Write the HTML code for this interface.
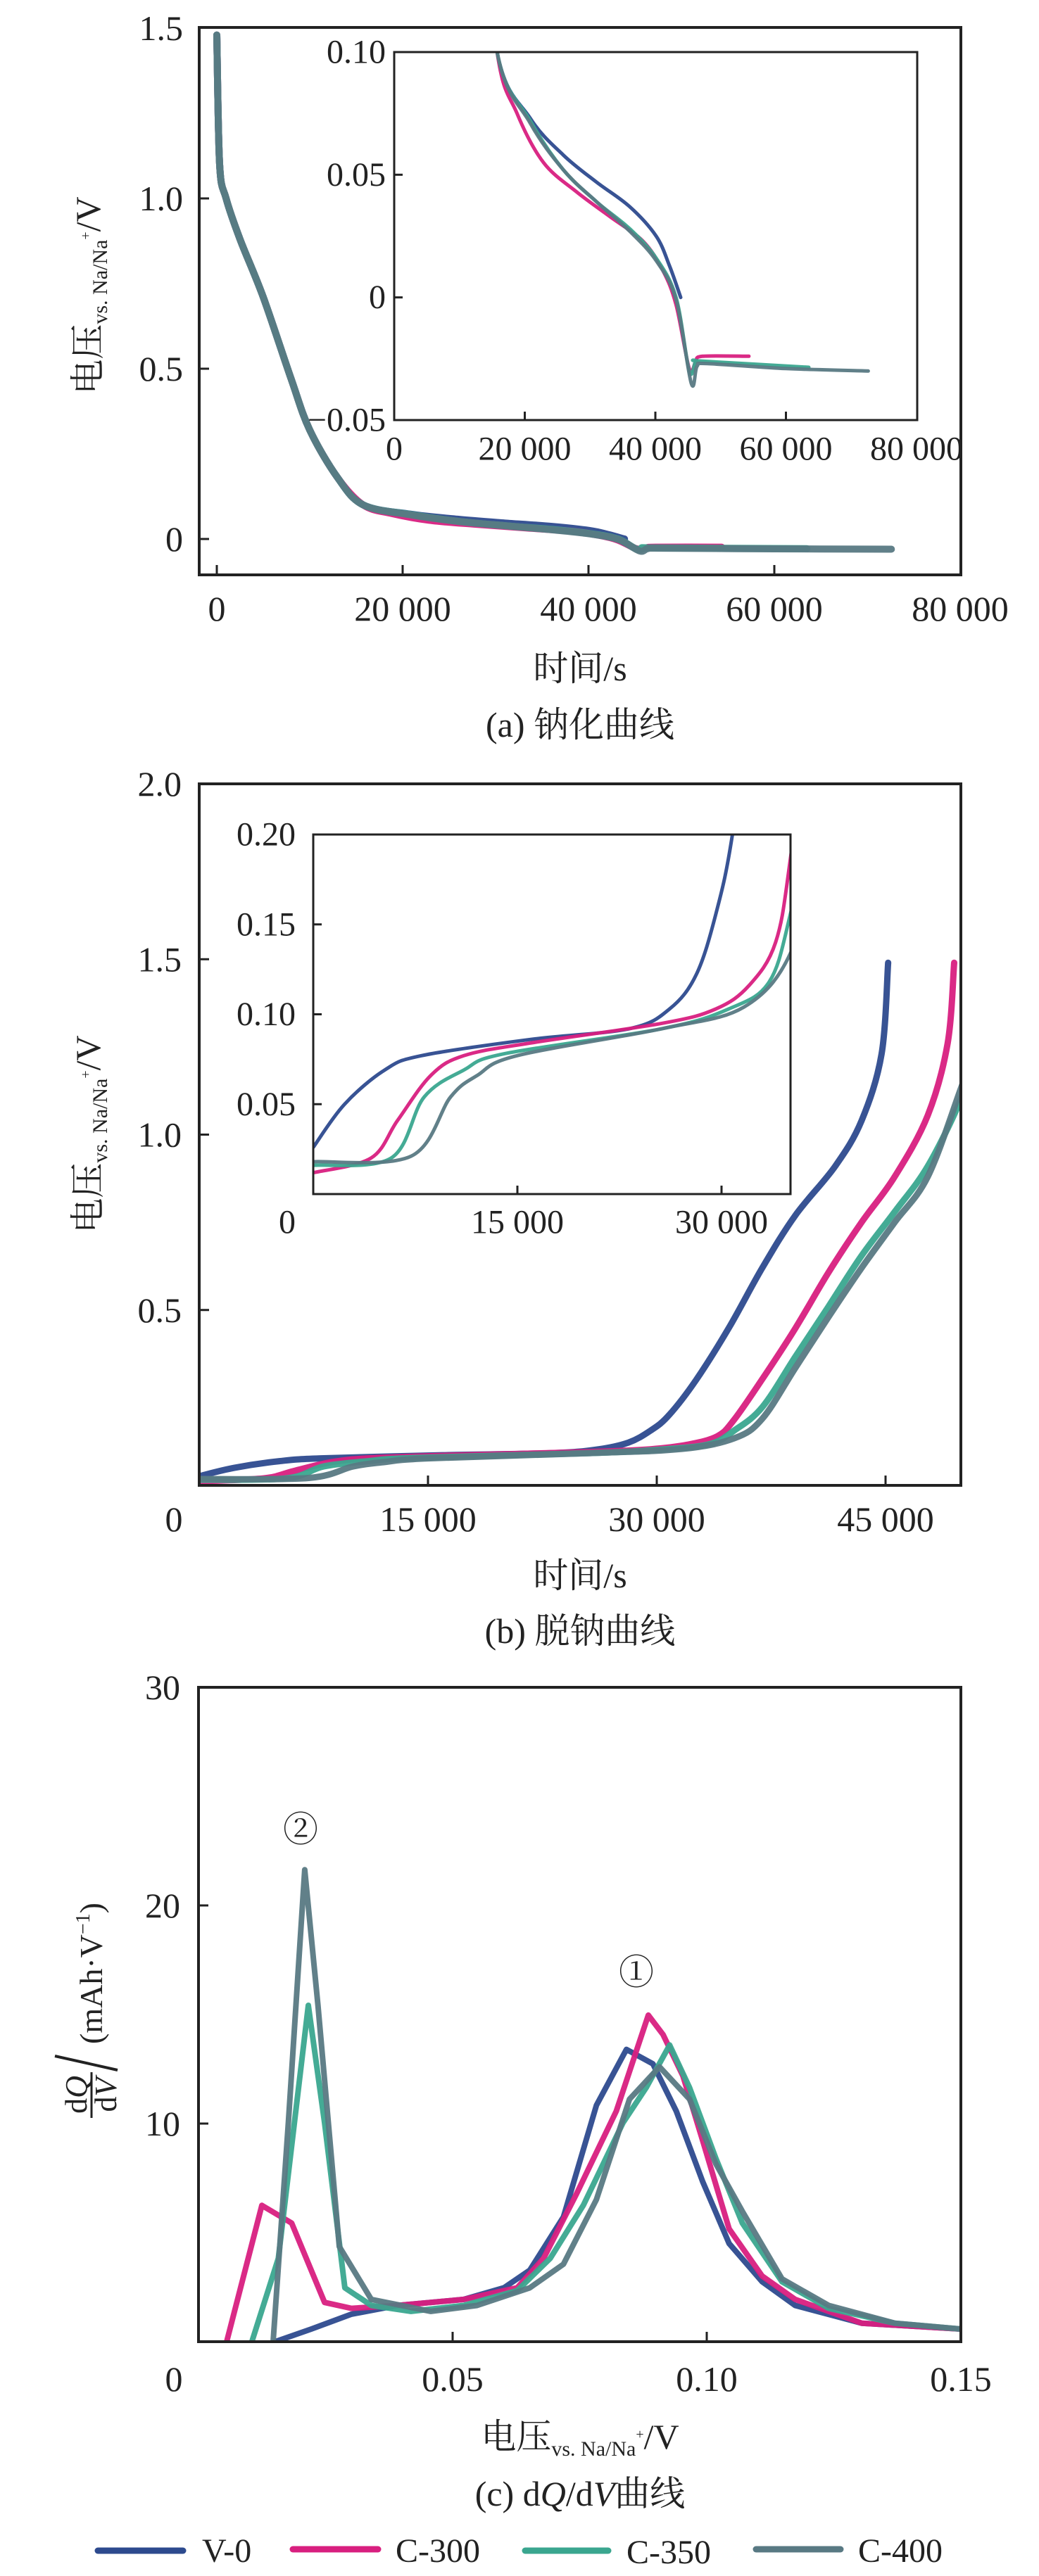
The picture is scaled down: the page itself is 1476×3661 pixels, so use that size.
<!DOCTYPE html>
<html><head><meta charset="utf-8">
<style>
html,body{margin:0;padding:0;background:#fff;}
svg{display:block;}
text{font-family:"Liberation Serif","Noto Serif CJK SC",serif;fill:#222;}
</style></head>
<body>
<svg id="fig" width="1476" height="3661" viewBox="0 0 1476 3661" xmlns="http://www.w3.org/2000/svg">
<defs>
<clipPath id="clipA"><rect x="283" y="39" width="1082" height="778"/></clipPath>
<clipPath id="clipAi"><rect x="560" y="74" width="743" height="523"/></clipPath>
<clipPath id="clipB"><rect x="283" y="1114" width="1082" height="997"/></clipPath>
<clipPath id="clipBi"><rect x="445" y="1186" width="678" height="511"/></clipPath>
<clipPath id="clipC"><rect x="282" y="2398" width="1083" height="930"/></clipPath>
</defs>
<g id="layer"></g>
</svg>
<script>
// ---------- Panel (a) data: sodiation curves ----------
const aV0_t = [0,300,1000,2500,5000,8000,10000,13000,15760,20840,25910,30990,36060,40120,42150,43880];
const aV0_v = [1.48,1.1,1.0,0.88,0.71,0.47,0.32,0.18,0.10,0.073,0.058,0.047,0.037,0.025,0.013,0.0];
const aC300_t = [0,300,1000,2500,5000,8000,10000,13000,15760,18810,22860,27940,33010,38080,41140,43170,45200,46200,47220,54330];
const aC300_v = [1.48,1.1,1.0,0.88,0.71,0.47,0.32,0.18,0.10,0.075,0.055,0.043,0.033,0.023,0.011,-0.003,-0.029,-0.026,-0.024,-0.024];
const aC350_t = [0,300,1000,2500,5000,8000,10000,13000,15760,20840,25910,30990,36060,40120,43170,45200,46200,47220,63500];
const aC350_v = [1.48,1.1,1.0,0.88,0.71,0.47,0.32,0.18,0.10,0.072,0.052,0.039,0.028,0.016,0.0,-0.030,-0.026,-0.026,-0.0285];
const aC400_t = [0,300,1000,2500,5000,8000,10000,13000,15760,20840,25910,30990,36060,40120,43170,45500,46400,48000,60000,72600];
const aC400_v = [1.48,1.1,1.0,0.88,0.71,0.47,0.32,0.18,0.10,0.071,0.052,0.039,0.027,0.015,-0.001,-0.035,-0.028,-0.027,-0.029,-0.030];
const aXTicks = [0,20000,40000,60000,80000];
const aXLabels = ["0","20 000","40 000","60 000","80 000"];
const aYTicks = [0,0.5,1.0,1.5];
const aYLabels = ["0","0.5","1.0","1.5"];
const aiYTicks = [-0.05,0,0.05,0.10];
const aiYLabels = ["\u22120.05","0","0.05","0.10"];

// ---------- Panel (b) data: desodiation curves ----------
const bV0_t = [0,2300,5250,7950,15930,23250,26190,28140,29590,30800,32570,34740,36920,39090,41700,43430,44740,45170];
const bV0_v = [0.026,0.050,0.069,0.077,0.086,0.092,0.103,0.122,0.156,0.200,0.30,0.45,0.62,0.77,0.91,1.04,1.23,1.49];
const bC300_t = [100,4240,6200,8640,11070,15930,25640,29590,32020,33970,35070,36920,39090,41260,43430,45600,47770,49070,49500];
const bC300_v = [0.012,0.020,0.041,0.066,0.077,0.084,0.095,0.103,0.116,0.140,0.187,0.303,0.448,0.607,0.75,0.88,1.055,1.26,1.49];
const bC350_t = [100,5720,8150,11070,14000,25640,30540,33500,35070,36920,39090,41260,43430,45600,47770,49930,50500];
const bC350_v = [0.016,0.020,0.054,0.069,0.078,0.092,0.103,0.118,0.156,0.223,0.367,0.51,0.655,0.78,0.91,1.10,1.2];
const bC400_t = [100,7180,10090,12050,14980,25640,31640,35070,36920,39090,41260,43430,45600,47770,49930,50500];
const bC400_v = [0.018,0.021,0.054,0.066,0.077,0.092,0.104,0.134,0.19,0.335,0.48,0.62,0.75,0.88,1.13,1.2];
const bXTicks = [0,15000,30000,45000];
const bXLabels = ["0","15 000","30 000","45 000"];
const bYTicks = [0.5,1.0,1.5,2.0];
const bYLabels = ["0.5","1.0","1.5","2.0"];
const biXTicks = [0,15000,30000];
const biXLabels = ["0","15 000","30 000"];
const biYTicks = [0.05,0.10,0.15,0.20];
const biYLabels = ["0.05","0.10","0.15","0.20"];

// ---------- Panel (c) data: dQ/dV ----------
const cV0_x = [0.01507,0.0222,0.0301,0.0392,0.0522,0.0601,0.0652,0.0718,0.0783,0.0842,0.0894,0.094,0.0992,0.1044,0.1109,0.1174,0.1305,0.150];
const cV0_y = [0,0.58,1.26,1.66,1.94,2.47,3.28,5.72,10.84,13.4,12.74,10.57,7.34,4.5,2.75,1.66,0.85,0.58];
const cC300_x = [0.00554,0.01247,0.01833,0.0248,0.0301,0.0392,0.0522,0.0627,0.0679,0.0744,0.0822,0.0885,0.0914,0.0953,0.0992,0.1044,0.1109,0.1174,0.1305,0.150];
const cC300_y = [0,6.25,5.44,1.8,1.53,1.66,1.94,2.47,3.82,6.79,10.57,14.97,14.08,12.19,9.22,5.17,3.01,1.94,0.85,0.58];
const cC350_x = [0.0105,0.0157,0.0216,0.0248,0.0288,0.034,0.0418,0.0522,0.0627,0.0692,0.0757,0.0835,0.0881,0.0927,0.0966,0.1018,0.107,0.1148,0.124,0.137,0.150];
const cC350_y = [0,3.82,15.42,10.03,2.47,1.66,1.39,1.66,2.34,3.82,6.25,10.03,11.65,13.6,11.65,8.4,5.44,2.75,1.53,0.85,0.58];
const cC400_x = [0.01468,0.01767,0.0209,0.0235,0.0277,0.034,0.0457,0.0548,0.0652,0.0718,0.0783,0.0848,0.0907,0.0966,0.1018,0.107,0.1148,0.124,0.137,0.150];
const cC400_y = [0,10.03,21.64,15.42,4.36,1.94,1.39,1.66,2.47,3.55,6.52,11.12,12.6,11.12,8.15,5.98,2.88,1.66,0.85,0.58];
const cXTicks = [0,0.05,0.10,0.15];
const cXLabels = ["0","0.05","0.10","0.15"];
const cYTicks = [10,20,30];
const cYLabels = ["10","20","30"];

const seriesNames = ["V-0","C-300","C-350","C-400"];
const seriesColors = ["#2d4a8e","#d81f7f","#3aa68f","#587983"];

const NS = "http://www.w3.org/2000/svg";
const root = document.getElementById("layer");
function mk(tag, attrs, parent){
  const e = document.createElementNS(NS, tag);
  for (const k in attrs) e.setAttribute(k, attrs[k]);
  (parent||root).appendChild(e);
  return e;
}
function lin(d0,d1,r0,r1){ return v => r0 + (v-d0)/(d1-d0)*(r1-r0); }
function smoothPath(pts){
  let d = "M"+pts[0][0].toFixed(1)+","+pts[0][1].toFixed(1);
  for (let i=0;i<pts.length-1;i++){
    const p0=pts[Math.max(0,i-1)], p1=pts[i], p2=pts[i+1], p3=pts[Math.min(pts.length-1,i+2)];
    const c1=[p1[0]+(p2[0]-p0[0])/6, p1[1]+(p2[1]-p0[1])/6];
    const c2=[p2[0]-(p3[0]-p1[0])/6, p2[1]-(p3[1]-p1[1])/6];
    d += " C"+c1[0].toFixed(1)+","+c1[1].toFixed(1)+" "+c2[0].toFixed(1)+","+c2[1].toFixed(1)+" "+p2[0].toFixed(1)+","+p2[1].toFixed(1);
  }
  return d;
}
function linePath(pts){ return pts.map((p,i)=>(i?"L":"M")+p[0].toFixed(1)+","+p[1].toFixed(1)).join(" "); }
function txt(x,y,s,size,anchor,parent){
  const t = mk("text",{x:x,y:y,"font-size":size,"text-anchor":anchor||"middle","dominant-baseline":"central"},parent);
  t.textContent = s;
  return t;
}
function drawBox(g, L,T,R,B, sw){
  const r = mk("rect",{x:L,y:T,width:R-L,height:B-T,fill:"none",stroke:"#222","stroke-width":sw},g);
  
  
}
function drawSeries(g, xs, ys, sx, sy, color, width, clip, smooth, name){
  const pts = xs.map((v,i)=>[sx(v), sy(ys[i])]);
  const p = mk("path",{d: smooth?smoothPath(pts):linePath(pts), fill:"none", stroke:color, "stroke-width":width, "stroke-linejoin":"round","stroke-linecap":"round","clip-path":"url(#"+clip+")", opacity:0.95},g);
  
  
}

// ================= Panel A =================
(function(){
  const g = mk("g",{});
  
  
  const L=283,T=39,R=1365,B=817;
  const sx = lin(0,80000,308,1364), sy = lin(0,1.5,766,40);
  const data = [[aV0_t,aV0_v],[aC300_t,aC300_v],[aC350_t,aC350_v],[aC400_t,aC400_v]];
  data.forEach((d,i)=>drawSeries(g,d[0],d[1],sx,sy,seriesColors[i],10,"clipA",true,"panel-a-line-"+seriesNames[i].toLowerCase()));
  drawBox(g,L,T,R,B,4);
  aXTicks.forEach((v,i)=>{
    if (v<80000) mk("line",{x1:sx(v),x2:sx(v),y1:B,y2:B-14,stroke:"#222","stroke-width":3},g);
    const t=txt(sx(v),865,aXLabels[i],50,"middle",g);
    
    
  });
  aYTicks.forEach((v,i)=>{
    if (v<1.5) mk("line",{x1:L,x2:L+14,y1:sy(v),y2:sy(v),stroke:"#222","stroke-width":3},g);
    const t=txt(260,sy(v),aYLabels[i],50,"end",g);
    
    
  });
  const iL=560,iT=74,iR=1303,iB=597;
  const ix = lin(0,80000,560,1302), iy = lin(0.10,-0.05,74,597);
  mk("rect",{x:iL,y:iT,width:iR-iL,height:iB-iT,fill:"#fff"},g);
  data.forEach((d,i)=>drawSeries(g,d[0],d[1],ix,iy,seriesColors[i],5,"clipAi",true,"panel-a-inset-line-"+seriesNames[i].toLowerCase()));
  drawBox(g,iL,iT,iR,iB,3);
  aXTicks.forEach((v,i)=>{
    if (v>0 && v<80000) mk("line",{x1:ix(v),x2:ix(v),y1:iB,y2:iB-12,stroke:"#222","stroke-width":3},g);
    const t=txt(ix(v),638,aXLabels[i],48,"middle",g);
    
    
  });
  aiYTicks.forEach((v,i)=>{
    if (v>-0.05 && v<0.10) mk("line",{x1:iL,x2:iL+12,y1:iy(v),y2:iy(v),stroke:"#222","stroke-width":3},g);
    const t=txt(548,iy(v),aiYLabels[i],48,"end",g);
    
    
  });
})();

// ================= Panel B =================
(function(){
  const g = mk("g",{});
  
  
  const L=283,T=1114,R=1365,B=2111;
  const sx = lin(0,15000,283,608), sy = lin(0,2.0,2111,1114);
  const data = [[bV0_t,bV0_v],[bC300_t,bC300_v],[bC350_t,bC350_v],[bC400_t,bC400_v]];
  data.forEach((d,i)=>drawSeries(g,d[0],d[1],sx,sy,seriesColors[i],9,"clipB",true,"panel-b-line-"+seriesNames[i].toLowerCase()));
  drawBox(g,L,T,R,B,4);
  bXTicks.forEach((v,i)=>{
    if (v>0) mk("line",{x1:sx(v),x2:sx(v),y1:B,y2:B-14,stroke:"#222","stroke-width":3},g);
    const t=txt(v===0?247:sx(v),2159,bXLabels[i],50,"middle",g);
    
    
  });
  bYTicks.forEach((v,i)=>{
    if (v<2.0) mk("line",{x1:L,x2:L+14,y1:sy(v),y2:sy(v),stroke:"#222","stroke-width":3},g);
    const t=txt(258,sy(v),bYLabels[i],50,"end",g);
    
    
  });
  const iL=445,iT=1186,iR=1123,iB=1697;
  const ix = lin(0,15000,445,735), iy = lin(0,0.20,1697,1186);
  mk("rect",{x:iL,y:iT,width:iR-iL,height:iB-iT,fill:"#fff"},g);
  data.forEach((d,i)=>drawSeries(g,d[0],d[1],ix,iy,seriesColors[i],5,"clipBi",true,"panel-b-inset-line-"+seriesNames[i].toLowerCase()));
  drawBox(g,iL,iT,iR,iB,3);
  biXTicks.forEach((v,i)=>{
    if (v>0) mk("line",{x1:ix(v),x2:ix(v),y1:iB,y2:iB-12,stroke:"#222","stroke-width":3},g);
    const t=txt(v===0?408:ix(v),1737,biXLabels[i],48,"middle",g);
    
    
  });
  biYTicks.forEach((v,i)=>{
    if (v<0.20) mk("line",{x1:iL,x2:iL+12,y1:iy(v),y2:iy(v),stroke:"#222","stroke-width":3},g);
    const t=txt(420,iy(v),biYLabels[i],48,"end",g);
    
    
  });
})();

// ================= Panel C =================
(function(){
  const g = mk("g",{});
  
  
  const L=282,T=2398,R=1365,B=3328;
  const sx = lin(0,0.15,282,1365), sy = lin(0,30,3328,2398);
  const data = [[cV0_x,cV0_y],[cC300_x,cC300_y],[cC350_x,cC350_y],[cC400_x,cC400_y]];
  data.forEach((d,i)=>drawSeries(g,d[0],d[1],sx,sy,seriesColors[i],8,"clipC",false,"panel-c-line-"+seriesNames[i].toLowerCase()));
  drawBox(g,L,T,R,B,4);
  cXTicks.forEach((v,i)=>{
    if (v>0 && v<0.15) mk("line",{x1:sx(v),x2:sx(v),y1:B,y2:B-14,stroke:"#222","stroke-width":3},g);
    const t=txt(v===0?247:sx(v),3381,cXLabels[i],50,"middle",g);
    
    
  });
  cYTicks.forEach((v,i)=>{
    if (v<30) mk("line",{x1:L,x2:L+14,y1:sy(v),y2:sy(v),stroke:"#222","stroke-width":3},g);
    const t=txt(256,sy(v),cYLabels[i],50,"end",g);
    
    
  });
})();
</script>

<svg style="position:absolute;left:0;top:0" width="1476" height="3661" viewBox="0 0 1476 3661" xmlns="http://www.w3.org/2000/svg">
<g font-family="'Liberation Serif','Noto Serif CJK SC',serif" fill="#222">
  <text transform="translate(142,420) rotate(-90)" text-anchor="middle" font-size="50">电压<tspan font-size="30" dy="10">vs. Na/Na</tspan><tspan font-size="20" dy="-24">+</tspan><tspan dy="14">/V</tspan></text>
  <text x="824" y="967" text-anchor="middle" font-size="50">时间/s</text>
  <text x="824" y="1047" text-anchor="middle" font-size="50">(a) 钠化曲线</text>
  <text transform="translate(142,1612) rotate(-90)" text-anchor="middle" font-size="50">电压<tspan font-size="30" dy="10">vs. Na/Na</tspan><tspan font-size="20" dy="-24">+</tspan><tspan dy="14">/V</tspan></text>
  <text x="824" y="2256" text-anchor="middle" font-size="50">时间/s</text>
  <text x="824" y="2335" text-anchor="middle" font-size="50">(b) 脱钠曲线</text>
  <text x="427" y="2617" text-anchor="middle" font-size="50">②</text>
  <text x="904" y="2820" text-anchor="middle" font-size="50">①</text>
  <g transform="translate(145,2700) rotate(-90)">
    <text x="-205" y="0" font-size="46" text-anchor="start">(mAh·V<tspan font-size="28" dy="-18">−1</tspan><tspan dy="18">)</tspan></text>
    <line x1="-222" y1="-67" x2="-242" y2="22" stroke="#222" stroke-width="4"/>
    <text x="-277" y="-22" font-size="44" text-anchor="middle">d<tspan font-style="italic">Q</tspan></text>
    <line x1="-310" y1="-15" x2="-245" y2="-15" stroke="#222" stroke-width="3"/>
    <text x="-277" y="20" font-size="44" text-anchor="middle">d<tspan font-style="italic">V</tspan></text>
  </g>
  <text x="824" y="3480" text-anchor="middle" font-size="50">电压<tspan font-size="30" dy="10">vs. Na/Na</tspan><tspan font-size="20" dy="-24">+</tspan><tspan dy="14">/V</tspan></text>
  <text x="824" y="3561" text-anchor="middle" font-size="50">(c) d<tspan font-style="italic">Q</tspan>/d<tspan font-style="italic">V</tspan>曲线</text>
  <g>
    <g><line x1="139" y1="3625" x2="260" y2="3625" stroke="#2d4a8e" stroke-width="9" stroke-linecap="round"/><text x="287" y="3641" font-size="48">V-0</text></g>
    <g><line x1="416" y1="3623" x2="537" y2="3623" stroke="#d81f7f" stroke-width="9" stroke-linecap="round"/><text x="562" y="3641" font-size="48">C-300</text></g>
    <g><line x1="746" y1="3625" x2="864" y2="3625" stroke="#3aa68f" stroke-width="9" stroke-linecap="round"/><text x="890" y="3643" font-size="48">C-350</text></g>
    <g><line x1="1074" y1="3623" x2="1194" y2="3623" stroke="#587983" stroke-width="9" stroke-linecap="round"/><text x="1219" y="3641" font-size="48">C-400</text></g>
  </g>
</g>
</svg>
</body></html>
